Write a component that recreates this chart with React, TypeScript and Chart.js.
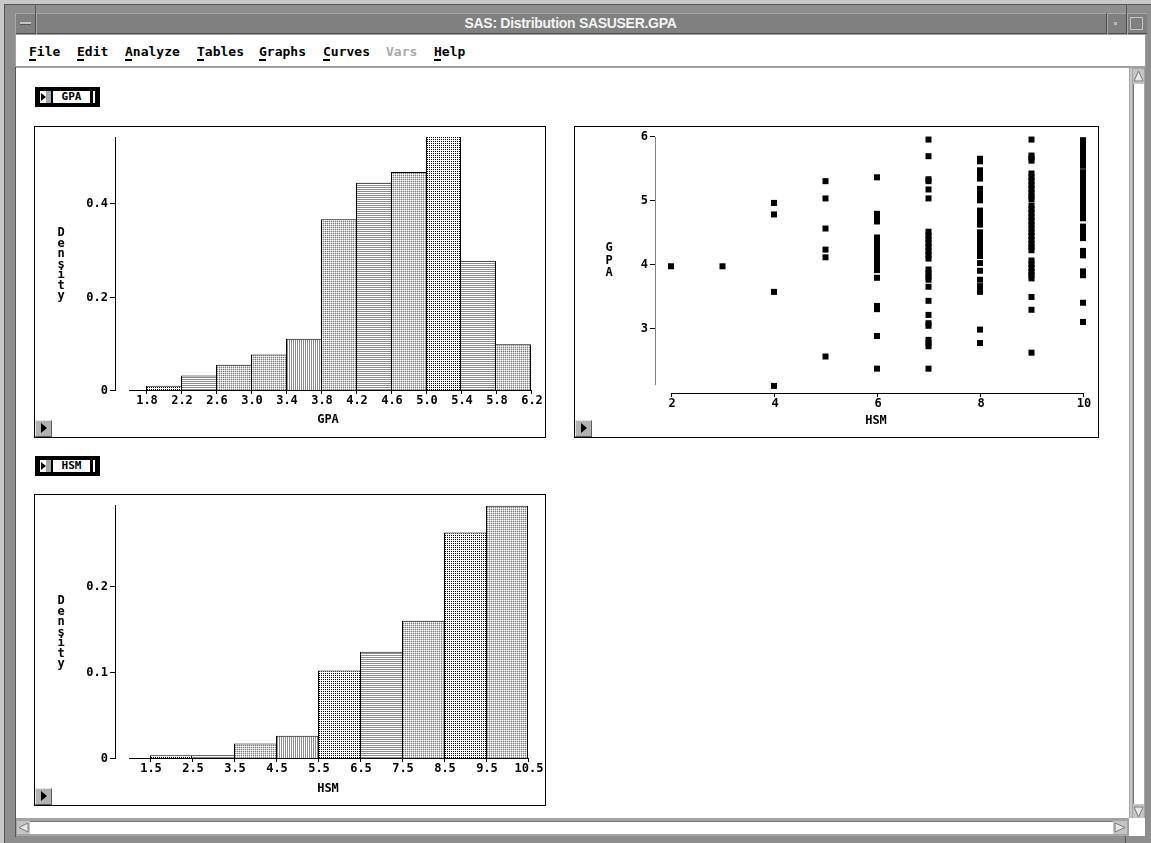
import React, { useEffect, useRef } from "react";
import { Chart, registerables } from "chart.js";

Chart.register(...registerables);

// ---------------- data ----------------
const gpaBinWidth = 0.4;
const gpaBinLeft = [1.8, 2.2, 2.6, 3.0, 3.4, 3.8, 4.2, 4.6, 5.0, 5.4, 5.8];
const gpaDensity = [0.011, 0.033, 0.056, 0.078, 0.112, 0.368, 0.446, 0.469, 0.547, 0.279, 0.1];
const gpaXTickLabels = ["1.8", "2.2", "2.6", "3.0", "3.4", "3.8", "4.2", "4.6", "5.0", "5.4", "5.8", "6.2"];
const gpaYTickLabels = ["0", "0.2", "0.4"];

const hsmBinWidth = 1;
const hsmBinLeft = [1.5, 2.5, 3.5, 4.5, 5.5, 6.5, 7.5, 8.5, 9.5];
const hsmDensity = [0.0045, 0.0045, 0.018, 0.027, 0.103, 0.125, 0.161, 0.264, 0.295];
const hsmXTickLabels = ["1.5", "2.5", "3.5", "4.5", "5.5", "6.5", "7.5", "8.5", "9.5", "10.5"];
const hsmYTickLabels = ["0", "0.1", "0.2"];

const scatterXTickLabels = ["2", "4", "6", "8", "10"];
const scatterYTickLabels = ["3", "4", "5", "6"];

const gpaAtHsm2 = [3.98];
const gpaAtHsm3 = [3.98];
const gpaAtHsm4 = [4.97, 4.79, 3.58, 2.11];
const gpaAtHsm5 = [5.31, 5.04, 4.57, 4.24, 4.12, 2.57];
const gpaAtHsm6 = [5.37, 4.8, 4.74, 4.68, 4.43, 4.37, 4.31, 4.25, 4.19, 4.13, 4.07, 4.01, 3.95, 3.92, 3.8, 3.36, 3.31, 2.89, 2.38];
const gpaAtHsm7 = [5.96, 5.7, 5.34, 5.31, 5.18, 5.04, 4.52, 4.46, 4.4, 4.34, 4.28, 4.22, 4.16, 4.1, 3.93, 3.87, 3.82, 3.77, 3.66, 3.44, 3.22, 3.09, 3.05, 2.83, 2.78, 2.73, 2.38];
const gpaAtHsm8 = [5.66, 5.62, 5.48, 5.42, 5.35, 5.19, 5.13, 5.07, 5.01, 4.85, 4.79, 4.73, 4.68, 4.63, 4.51, 4.45, 4.39, 4.33, 4.28, 4.23, 4.14, 4.03, 3.91, 3.77, 3.67, 3.62, 3.58, 2.99, 2.78];
const gpaAtHsm9 = [5.96, 5.71, 5.67, 5.63, 5.43, 5.37, 5.31, 5.25, 5.19, 5.13, 5.07, 5.03, 4.93, 4.87, 4.81, 4.75, 4.69, 4.63, 4.57, 4.51, 4.45, 4.39, 4.33, 4.28, 4.23, 4.07, 4.01, 3.95, 3.89, 3.84, 3.79, 3.5, 3.3, 2.63];
const gpaAtHsm10 = [5.95, 5.89, 5.83, 5.77, 5.71, 5.65, 5.6, 5.55, 5.45, 5.39, 5.33, 5.27, 5.21, 5.15, 5.09, 5.03, 4.97, 4.91, 4.85, 4.79, 4.73, 4.6, 4.54, 4.48, 4.42, 4.22, 4.15, 3.9, 3.84, 3.41, 3.11];

const scatterGroups: [number, number[]][] = [
  [2, gpaAtHsm2], [3, gpaAtHsm3], [4, gpaAtHsm4], [5, gpaAtHsm5], [6, gpaAtHsm6],
  [7, gpaAtHsm7], [8, gpaAtHsm8], [9, gpaAtHsm9], [10, gpaAtHsm10],
];

// ---------------- styles ----------------
const gpaPatterns = ["dots", "hline", "grid", "grid", "vline", "grid", "hline", "grid", "dots", "hline", "grid"];
const hsmPatterns = ["dots", "hline", "grid", "vline", "dots", "hline", "grid", "dots", "grid"];
const AXIS_FONT = 'bold 12px "DejaVu Sans Mono", monospace';

function makePattern(kind: string) {
  const c = document.createElement("canvas");
  c.width = 2;
  c.height = 2;
  const g = c.getContext("2d")!;
  g.fillStyle = "#fff";
  g.fillRect(0, 0, 2, 2);
  if (kind === "dots") {
    g.fillStyle = "#000";
    g.fillRect(0, 0, 1, 1);
  } else if (kind === "hline") {
    g.fillStyle = "#8c8c8c";
    g.fillRect(0, 0, 2, 1);
  } else if (kind === "vline") {
    g.fillStyle = "#8c8c8c";
    g.fillRect(0, 0, 1, 2);
  } else {
    g.fillStyle = "#7a7a7a";
    g.fillRect(0, 0, 1, 1);
    g.fillStyle = "#d4d4d4";
    g.fillRect(1, 0, 1, 1);
    g.fillRect(0, 1, 1, 1);
  }
  return g.createPattern(c, "repeat");
}

const edgeWidths = (vals: number[]) => (c: any) => {
  const i = c.dataIndex;
  const n = vals.length;
  const left = i === 0 || vals[i - 1] < vals[i] ? 1 : 0;
  const right = i === n - 1 || vals[i + 1] <= vals[i] ? 1 : 0;
  return { top: 1, left, right, bottom: 0 };
};

type AxisSpec = {
  xLabels: string[];
  yLabels: string[];
  xTitle: string;
  yTitle: string;
  yAxisCol: number;
  yAxisColor: string;
  xAxisColor: string;
  xAxisGap: number;
  xAxisFromChartLeft: boolean;
  xTitleX: number;
  xTitleY: number;
  yTitleX: number;
  yTitleY: number;
  yTitleStep: number;
};

function makeAxisPlugin(spec: AxisSpec) {
  return {
    id: "sasAxes",
    afterDatasetsDraw(chart: any) {
      const { ctx, chartArea, scales } = chart;
      const xs = scales.x;
      const ys = scales.y;
      ctx.save();
      const yTopPx = Math.round(ys.getPixelForValue(ys.max));
      const yBotPx = Math.round(ys.getPixelForValue(ys.min));
      ctx.fillStyle = spec.yAxisColor;
      ctx.fillRect(spec.yAxisCol, yTopPx, 1, yBotPx - yTopPx);

      ctx.font = AXIS_FONT;
      ctx.textAlign = "right";
      ctx.textBaseline = "middle";
      for (const lab of spec.yLabels) {
        const row = Math.floor(ys.getPixelForValue(parseFloat(lab)) - 0.5);
        ctx.fillStyle = "#000";
        ctx.fillRect(spec.yAxisCol - 5, row, 5, 1);
        ctx.fillText(lab, spec.yAxisCol - 7, row + 1);
      }

      const axisRow = Math.floor(yBotPx - 0.5) + spec.xAxisGap;
      const x0 = Math.round(spec.xAxisFromChartLeft ? chartArea.left : xs.getPixelForValue(parseFloat(spec.xLabels[0])));
      const x1 = Math.round(xs.getPixelForValue(parseFloat(spec.xLabels[spec.xLabels.length - 1])));
      ctx.fillStyle = spec.xAxisColor;
      ctx.fillRect(x0, axisRow, x1 - x0 + 1, 1);
      ctx.textAlign = "center";
      ctx.fillStyle = "#000";
      for (const lab of spec.xLabels) {
        const col = Math.round(xs.getPixelForValue(parseFloat(lab)));
        ctx.fillRect(col, axisRow + 1, 1, 3);
        ctx.fillText(lab, col + 1, axisRow + 11);
      }
      ctx.fillText(spec.xTitle, spec.xTitleX, spec.xTitleY);
      ctx.textBaseline = "alphabetic";
      Array.from(spec.yTitle).forEach((ch, i) => {
        ctx.fillText(ch, spec.yTitleX, spec.yTitleY + i * spec.yTitleStep);
      });
      ctx.restore();
    },
  };
}

function buildHistogram(
  canvas: HTMLCanvasElement,
  binLeft: number[],
  binWidth: number,
  density: number[],
  patterns: string[],
  xLabels: string[],
  yLabels: string[],
  xMin: number,
  xMax: number,
  yMax: number,
  padding: any,
  spec: AxisSpec
) {
  return new Chart(canvas, {
    type: "bar",
    data: {
      datasets: [
        {
          data: binLeft.map((l, i) => ({ x: l + binWidth / 2, y: density[i] })),
          backgroundColor: patterns.map((k) => makePattern(k)) as any,
          borderColor: "#000",
          borderWidth: edgeWidths(density) as any,
          borderSkipped: false,
          barPercentage: 1,
          categoryPercentage: 1,
          inflateAmount: 0,
        } as any,
      ],
    },
    options: {
      animation: false,
      responsive: false,
      events: [],
      layout: { padding },
      scales: {
        x: {
          type: "linear",
          min: xMin,
          max: xMax,
          offset: false,
          display: false,
          afterBuildTicks: (s: any) => {
            s.ticks = xLabels.map((v) => ({ value: parseFloat(v) }));
          },
        },
        y: {
          min: 0,
          max: yMax,
          offset: false,
          display: false,
          afterBuildTicks: (s: any) => {
            s.ticks = yLabels.map((v) => ({ value: parseFloat(v) }));
          },
        },
      },
      plugins: { legend: { display: false }, tooltip: { enabled: false } },
    } as any,
    plugins: [makeAxisPlugin(spec)],
  });
}

function buildScatter(canvas: HTMLCanvasElement) {
  const points: { x: number; y: number }[] = [];
  scatterGroups.forEach(([h, list]) => list.forEach((g) => points.push({ x: h, y: g })));
  return new Chart(canvas, {
    type: "scatter",
    data: {
      datasets: [
        {
          data: points,
          pointStyle: "rect",
          pointRadius: 4.25,
          pointBackgroundColor: "#000",
          pointBorderWidth: 0,
          clip: false,
        } as any,
      ],
    },
    options: {
      animation: false,
      responsive: false,
      events: [],
      layout: { padding: { left: 96, right: 15, top: 10, bottom: 51.7 } },
      scales: {
        x: {
          type: "linear",
          min: 2,
          max: 10,
          offset: false,
          display: false,
          afterBuildTicks: (s: any) => {
            s.ticks = scatterXTickLabels.map((v) => ({ value: parseFloat(v) }));
          },
        },
        y: {
          type: "linear",
          min: 2.12,
          max: 6,
          offset: false,
          display: false,
          afterBuildTicks: (s: any) => {
            s.ticks = scatterYTickLabels.map((v) => ({ value: parseFloat(v) }));
          },
        },
      },
      plugins: { legend: { display: false }, tooltip: { enabled: false } },
    } as any,
    plugins: [
      makeAxisPlugin({
        xLabels: scatterXTickLabels,
        yLabels: scatterYTickLabels,
        xTitle: "HSM",
        yTitle: "GPA",
        yAxisCol: 80,
        yAxisColor: "#808080",
        xAxisColor: "#000",
        xAxisGap: 9,
        xAxisFromChartLeft: false,
        xTitleX: 301,
        xTitleY: 294,
        yTitleX: 34,
        yTitleY: 124,
        yTitleStep: 12.5,
      }),
    ],
  });
}

function ChartCanvas({ width, height, build }: { width: number; height: number; build: (c: HTMLCanvasElement) => Chart }) {
  const ref = useRef<HTMLCanvasElement>(null);
  useEffect(() => {
    const chart = build(ref.current!);
    return () => chart.destroy();
  }, []);
  return <canvas ref={ref} width={width} height={height} style={{ display: "block", width, height }} />;
}

function TriButton() {
  return (
    <div
      style={{
        position: "absolute",
        left: 0,
        bottom: 0,
        width: 15,
        height: 15,
        background: "#b2b2b2",
        borderTop: "1px solid #e6e6e6",
        borderLeft: "1px solid #e6e6e6",
        borderRight: "1px solid #5a5a5a",
        borderBottom: "1px solid #5a5a5a",
      }}
    >
      <div
        style={{
          position: "absolute",
          left: 5,
          top: 2,
          width: 0,
          height: 0,
          borderLeft: "6px solid #000",
          borderTop: "5px solid transparent",
          borderBottom: "5px solid transparent",
        }}
      />
    </div>
  );
}

function Tag({ left, top, label }: { left: number; top: number; label: string }) {
  const abs = (l: number, t: number, w: number, h: number, bg: string): React.CSSProperties => ({
    position: "absolute",
    left: l,
    top: t,
    width: w,
    height: h,
    background: bg,
  });
  return (
    <div style={{ ...abs(left, top, 65, 20, "#000") }}>
      <div style={abs(5, 4, 6, 12, "#fff")} />
      <div
        style={{
          position: "absolute",
          left: 6,
          top: 6,
          width: 0,
          height: 0,
          borderLeft: "5px solid #000",
          borderTop: "4px solid transparent",
          borderBottom: "4px solid transparent",
        }}
      />
      <div style={abs(11, 4, 5, 12, "#a8a8a8")} />
      <div
        style={{
          ...abs(18, 4, 37, 12, "#fff"),
          font: 'bold 11px "DejaVu Sans Mono", monospace',
          lineHeight: "12px",
          textAlign: "center",
          color: "#000",
        }}
      >
        {label}
      </div>
      <div style={abs(58, 4, 2, 12, "#fff")} />
    </div>
  );
}

const menuItems: [string, number, boolean][] = [
  ["File", 29, true],
  ["Edit", 77, true],
  ["Analyze", 125, true],
  ["Tables", 197, true],
  ["Graphs", 259, true],
  ["Curves", 323, true],
  ["Vars", 386, false],
  ["Help", 434, true],
];

function R({ l, t, w, h, bg, s }: { l: number; t: number; w: number; h: number; bg: string; s?: React.CSSProperties }) {
  return <div style={{ position: "absolute", left: l, top: t, width: w, height: h, background: bg, ...(s || {}) }} />;
}

export default function App() {
  const gpaSpec: AxisSpec = {
    xLabels: gpaXTickLabels,
    yLabels: gpaYTickLabels,
    xTitle: "GPA",
    yTitle: "Density",
    yAxisCol: 80,
    yAxisColor: "#000",
    xAxisColor: "#000",
    xAxisGap: 0,
    xAxisFromChartLeft: true,
    xTitleX: 293,
    xTitleY: 293,
    yTitleX: 26,
    yTitleY: 109,
    yTitleStep: 10.5,
  };
  const hsmSpec: AxisSpec = { ...gpaSpec, xLabels: hsmXTickLabels, yLabels: hsmYTickLabels, xTitle: "HSM", xTitleY: 294 };

  return (
    <div
      style={{
        position: "relative",
        width: 1151,
        height: 843,
        overflow: "hidden",
        background: "#c8c8c8",
        fontFamily: '"Liberation Sans", Arial, sans-serif',
      }}
    >
      <style>{`body{margin:0;}`}</style>
      {/* frame */}
      <R l={4} t={4} w={1147} h={839} bg="#8e8e8e" />
      <R l={4} t={4} w={1147} h={1} bg="#555" />
      <R l={4} t={4} w={1} h={839} bg="#555" />
      <R l={35} t={4} w={1} h={10} bg="#5a5a5a" />
      <R l={1126} t={4} w={1} h={10} bg="#5a5a5a" />
      {/* title bar */}
      <R l={15} t={13} w={1132} h={21} bg="#808080" />
      <R l={15} t={13} w={1132} h={1} bg="#a9a9a9" />
      <R l={15} t={33} w={1132} h={1} bg="#4c4c4c" />
      <R l={15} t={13} w={1} h={21} bg="#a9a9a9" />
      <R l={35} t={13} w={1} h={21} bg="#4c4c4c" />
      <R l={36} t={13} w={1} h={21} bg="#a9a9a9" />
      <R l={20} t={22} w={11} h={2} bg="#c4c4c4" />
      <R l={20} t={24} w={11} h={1} bg="#555" />
      <R l={1106} t={13} w={1} h={21} bg="#4c4c4c" />
      <R l={1107} t={13} w={1} h={21} bg="#a9a9a9" />
      <R l={1114} t={22} w={3} h={3} bg="#b8b8b8" />
      <R l={1126} t={13} w={1} h={21} bg="#4c4c4c" />
      <R l={1127} t={13} w={1} h={21} bg="#a9a9a9" />
      <R l={1130} t={17} w={13} h={13} bg="#808080" s={{ border: "1px solid #c4c4c4", boxSizing: "border-box" }} />
      <div
        style={{
          position: "absolute",
          left: 15,
          top: 16,
          width: 1111,
          textAlign: "center",
          color: "#f4f4f4",
          font: 'bold 14px "Liberation Sans", Arial, sans-serif',
          letterSpacing: "-0.3px",
          lineHeight: "14px",
        }}
      >
        SAS: Distribution SASUSER.GPA
      </div>
      {/* menu bar */}
      <R l={15} t={34} w={1131} h={34} bg="#a0a0a0" />
      <R l={16} t={35} w={1129} h={31} bg="#fff" />
      {menuItems.map(([label, x, enabled]) => (
        <div key={label}>
          <div
            style={{
              position: "absolute",
              left: x,
              top: 45,
              font: 'bold 13px "DejaVu Sans Mono", monospace',
              lineHeight: "13px",
              color: enabled ? "#000" : "#a8a8a8",
              whiteSpace: "pre",
            }}
          >
            {label}
          </div>
          {enabled && <R l={x} t={59} w={7} h={2} bg="#000" />}
        </div>
      ))}
      {/* content area */}
      <R l={15} t={67} w={1} h={770} bg="#555" />
      <R l={16} t={68} w={1113} h={750} bg="#fff" />
      {/* vertical scrollbar */}
      <R l={1129} t={68} w={16} h={750} bg="#a4a4a4" />
      <R l={1130} t={68} w={2} h={750} bg="#c8c8c8" />
      <R l={1133} t={69} w={11} h={748} bg="#fff" s={{ borderLeft: "1px solid #777", boxSizing: "border-box" }} />
      <R l={1133} t={69} w={11} h={15} bg="#c4c4c4" />
      <svg style={{ position: "absolute", left: 1133, top: 70 }} width={11} height={13}>
        <polygon points="5.5,1 10,11 1,11" fill="#e8e8e8" stroke="#7a7a7a" strokeWidth={1} />
      </svg>
      <R l={1133} t={804} w={11} h={14} bg="#c4c4c4" />
      <svg style={{ position: "absolute", left: 1133, top: 805 }} width={11} height={13}>
        <polygon points="1,2 10,2 5.5,12" fill="#e8e8e8" stroke="#7a7a7a" strokeWidth={1} />
      </svg>
      {/* horizontal scrollbar */}
      <R l={16} t={818} w={1113} h={18} bg="#a4a4a4" />
      <R l={17} t={821} w={1110} h={13} bg="#fff" s={{ borderTop: "1px solid #777", boxSizing: "border-box" }} />
      <R l={17} t={821} w={13} h={13} bg="#c4c4c4" />
      <svg style={{ position: "absolute", left: 17, top: 821 }} width={13} height={13}>
        <polygon points="2,6.5 11,2 11,11" fill="#e8e8e8" stroke="#7a7a7a" strokeWidth={1} />
      </svg>
      <R l={1113} t={821} w={14} h={13} bg="#c4c4c4" />
      <svg style={{ position: "absolute", left: 1113, top: 821 }} width={14} height={13}>
        <polygon points="2,2 12,6.5 2,11" fill="#e8e8e8" stroke="#7a7a7a" strokeWidth={1} />
      </svg>
      <R l={1129} t={818} w={16} h={18} bg="#fff" />
      <R l={1125} t={836} w={1} h={7} bg="#555" />

      {/* tags */}
      <Tag left={35} top={87} label="GPA" />
      <Tag left={35} top={456} label="HSM" />

      {/* GPA histogram */}
      <div style={{ position: "absolute", left: 34, top: 126, width: 510, height: 310, border: "1px solid #000", background: "#fff" }}>
        <ChartCanvas
          width={510}
          height={310}
          build={(c) =>
            buildHistogram(c, gpaBinLeft, gpaBinWidth, gpaDensity, gpaPatterns, gpaXTickLabels, gpaYTickLabels, 1.6, 6.2, 0.544, { left: 93.5, right: 14, top: 10, bottom: 46 }, gpaSpec)
          }
        />
        <TriButton />
      </div>

      {/* Scatter */}
      <div style={{ position: "absolute", left: 574, top: 126, width: 523, height: 310, border: "1px solid #000", background: "#fff" }}>
        <ChartCanvas width={523} height={310} build={(c) => buildScatter(c)} />
        <TriButton />
      </div>

      {/* HSM histogram */}
      <div style={{ position: "absolute", left: 34, top: 494, width: 510, height: 310, border: "1px solid #000", background: "#fff" }}>
        <ChartCanvas
          width={510}
          height={310}
          build={(c) =>
            buildHistogram(c, hsmBinLeft, hsmBinWidth, hsmDensity, hsmPatterns, hsmXTickLabels, hsmYTickLabels, 1.0, 10.5, 0.296, { left: 94, right: 17, top: 10, bottom: 46 }, hsmSpec)
          }
        />
        <TriButton />
      </div>
    </div>
  );
}
